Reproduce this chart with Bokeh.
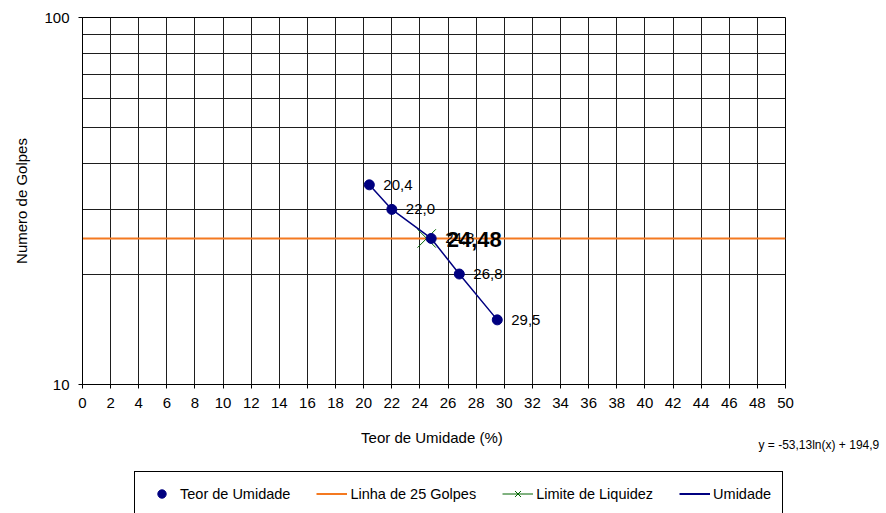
from bokeh.plotting import figure
from bokeh.layouts import column
from bokeh.models import (FixedTicker, PrintfTickFormatter, Legend, LegendItem, Title)
from bokeh.core.properties import value
from bokeh.embed import file_html
from bokeh.resources import INLINE

# ---- data ----
teor_umidade = [20.4, 22.0, 24.8, 26.8, 29.5]   # %
num_golpes = [35, 30, 25, 20, 15]
limite_liquidez = 24.48
golpes_ref = 25
x_min, x_max = 0, 50
y_min, y_max = 10, 100
x_ticks = [0, 2, 4, 6, 8, 10, 12, 14, 16, 18, 20, 22, 24, 26, 28, 30, 32, 34,
           36, 38, 40, 42, 44, 46, 48, 50]
y_ticks = [10, 100]
y_grid = [10, 20, 30, 40, 50, 60, 70, 80, 90, 100]
equation = "y = -53,13ln(x) + 194,9"
legend_labels = ["Teor de Umidade", "Linha de 25 Golpes", "Limite de Liquidez", "Umidade"]

point_labels = [f"{v:.1f}".replace(".", ",") for v in teor_umidade]
ll_label = f"{limite_liquidez:.2f}".replace(".", ",")

FONT = "Liberation Sans"
NAVY = "#000080"
ORANGE = "#F47920"
GREEN = "#006400"
GRID = "#1e1e1e"

p = figure(frame_width=703, frame_height=367,
           x_range=(x_min, x_max), y_range=(y_min, y_max), y_axis_type="log",
           output_backend="svg", toolbar_location=None,
           min_border_left=82, min_border_right=101, min_border_top=17, min_border_bottom=76,
           background_fill_color="white", border_fill_color="white")

p.outline_line_color = "black"
p.outline_line_width = 1
p.outline_line_alpha = 1

# grids
p.xgrid.ticker = FixedTicker(ticks=x_ticks)
p.ygrid.ticker = FixedTicker(ticks=y_grid)
for g in (p.xgrid, p.ygrid):
    g.grid_line_color = GRID
    g.grid_line_width = 1
    g.grid_line_alpha = 1

# axes
xa = p.xaxis[0]
xa.ticker = FixedTicker(ticks=x_ticks, minor_ticks=[])
xa.axis_label = "Teor de Umidade  (%)"
ya = p.yaxis[0]
ya.ticker = FixedTicker(ticks=y_ticks, minor_ticks=[])
ya.formatter = PrintfTickFormatter(format="%d")
ya.axis_label = "Numero de Golpes"
for ax in (xa, ya):
    ax.axis_line_color = "black"
    ax.major_tick_line_color = "black"
    ax.major_tick_out = 4
    ax.major_tick_in = 0
    ax.minor_tick_out = 0
    ax.minor_tick_in = 0
    ax.major_label_text_font = FONT
    ax.major_label_text_font_size = "15px"
    ax.major_label_text_color = "black"
    ax.axis_label_text_font = FONT
    ax.axis_label_text_font_size = "15px"
    ax.axis_label_text_font_style = "normal"
    ax.axis_label_text_color = "black"
xa.major_label_standoff = 9
xa.axis_label_standoff = 18
ya.major_label_standoff = 9
ya.axis_label_standoff = 11

# reference line (25 golpes)
p.line(x=[x_min, x_max], y=[golpes_ref, golpes_ref], line_color=ORANGE, line_width=2)

# liquid limit marker
p.scatter(x=[limite_liquidez], y=[golpes_ref], marker="x", size=26,
          line_color=GREEN, line_width=1)

# umidade line and points
p.line(x=teor_umidade, y=num_golpes, line_color=NAVY, line_width=1.5)
p.scatter(x=teor_umidade, y=num_golpes, marker="circle", size=10,
          fill_color=NAVY, line_color=NAVY)

# data labels
p.text(x=teor_umidade, y=num_golpes, text=point_labels, x_offset=14,
       text_baseline="middle", text_align="left", text_font=value(FONT),
       text_font_size="15px", text_color="black")
p.text(x=[limite_liquidez], y=[golpes_ref], text=[ll_label], x_offset=20, y_offset=1,
       text_baseline="middle", text_align="left", text_font=value(FONT),
       text_font_size="22px", text_font_style="bold", text_color="black")

# trend equation below the axis title, to the right
p.add_layout(Title(text=equation, align="left", offset=676, standoff=-21,
                   vertical_align="top", text_font=FONT, text_font_size="12px",
                   text_font_style="normal", text_color="black"), "below")

# ---- legend strip (separate figure; its renderers' data lie outside its ranges) ----
pl = figure(width=886, height=53, x_range=(x_min - 2, x_min - 1), y_range=(y_min, y_max),
            x_axis_location=None, y_axis_location=None,
            output_backend="svg", toolbar_location=None,
            min_border_left=82, min_border_right=101, min_border_top=0, min_border_bottom=0,
            background_fill_color="white", border_fill_color="white")
pl.outline_line_color = None
pl.xgrid.visible = False
pl.ygrid.visible = False

l_pts = pl.scatter(x=teor_umidade, y=num_golpes, marker="circle",
                   fill_color=NAVY, line_color=NAVY)
l_orange = pl.line(x=[x_min, x_max], y=[golpes_ref, golpes_ref], line_color=ORANGE, line_width=2)
l_ll_line = pl.line(x=[limite_liquidez], y=[golpes_ref], line_color=GREEN, line_width=1)
l_ll_x = pl.scatter(x=[limite_liquidez], y=[golpes_ref], marker="x",
                    line_color=GREEN, line_width=1)
l_line = pl.line(x=teor_umidade, y=num_golpes, line_color=NAVY, line_width=2)

legend = Legend(items=[
    LegendItem(label=legend_labels[0], renderers=[l_pts]),
    LegendItem(label=legend_labels[1], renderers=[l_orange]),
    LegendItem(label=legend_labels[2], renderers=[l_ll_line, l_ll_x]),
    LegendItem(label=legend_labels[3], renderers=[l_line]),
], orientation="horizontal", location=(52, -3))
legend.label_text_font = FONT
legend.label_text_font_size = "14.5px"
legend.label_text_color = "black"
legend.glyph_width = 31
legend.glyph_height = 21
legend.label_height = 21
legend.label_standoff = 3
legend.spacing = 26
legend.padding = 11
legend.margin = 0
legend.border_line_color = "black"
legend.border_line_width = 1
legend.border_line_alpha = 1
legend.background_fill_color = "white"
legend.background_fill_alpha = 1
pl.add_layout(legend)

layout = column(p, pl, spacing=0)
open("out.html", "w").write(file_html(layout, INLINE))
